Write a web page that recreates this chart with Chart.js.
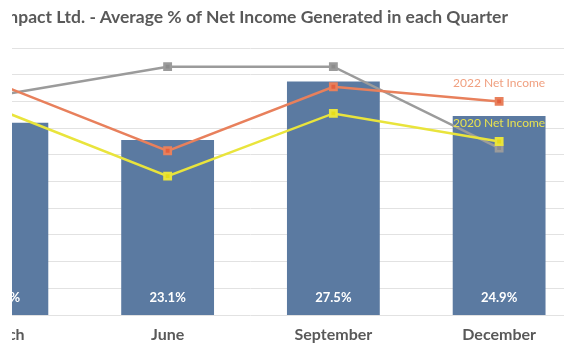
<!DOCTYPE html>
<html>
<head>
<meta charset="utf-8">
<script src="https://cdn.jsdelivr.net/npm/chart.js@4.4.1/dist/chart.umd.min.js"></script>
<style>
  html, body { margin: 0; padding: 0; background: #fff; }
  #wrap { position: absolute; left: 12px; top: 0; width: 552px; height: 344px; overflow: hidden; background: #fff; }
  #title { position: absolute; right: 56px; top: 6px; white-space: nowrap; font: bold 17.5px Lato, sans-serif; color: #595959; }
  #box { position: absolute; left: -100px; top: 0; width: 677px; height: 344px; }
</style>
</head>
<body>
<div id="wrap">
  <div id="box"><canvas id="chart"></canvas></div>
  <div id="title">Impact Ltd. - Average % of Net Income Generated in each Quarter</div>
</div>
<script>
// Quarters and values
const quarters = ["March", "June", "September", "December"];
const avgShare = [24.4, 23.1, 27.5, 24.9];
const income2021 = [26.5, 28.6, 28.6, 22.5];
const income2022 = [27.2, 22.3, 27.1, 26.0];
const income2020 = [25.3, 20.4, 25.1, 23.0];
const yMin = 10, yMax = 30, yStep = 2;

// white % labels near the foot of each bar
const barLabels = {
    id: "barLabels",
    afterDatasetsDraw(chart) {
        const ctx = chart.ctx;
        const meta = chart.getDatasetMeta(0);
        const foot = chart.scales.y.getPixelForValue(yMin);
        ctx.save();
        ctx.font = "bold 13px Lato, sans-serif";
        ctx.fillStyle = "#ffffff";
        ctx.textAlign = "center";
        ctx.textBaseline = "middle";
        meta.data.forEach((bar, i) => {
            ctx.fillText(avgShare[i].toFixed(1) + "%", bar.x, foot - 17);
        });
        ctx.restore();
    }
};

// series name above the last point of a line
const seriesTags = {
    id: "seriesTags",
    afterDatasetsDraw(chart) {
        const ctx = chart.ctx;
        ctx.save();
        ctx.font = "12px Lato, sans-serif";
        ctx.textAlign = "center";
        ctx.textBaseline = "middle";
        chart.data.datasets.forEach((ds, i) => {
            if (!ds.tagColor) return;
            const pts = chart.getDatasetMeta(i).data;
            const last = pts[pts.length - 1];
            ctx.fillStyle = ds.tagColor;
            ctx.fillText(ds.label, last.x, last.y - 18);
        });
        ctx.restore();
    }
};

new Chart(document.getElementById("chart"), {
    type: "bar",
    data: {
        labels: quarters,
        datasets: [
            {
                type: "bar",
                label: "Average % of Net Income",
                data: avgShare,
                backgroundColor: "#5b7aa1",
                barPercentage: 0.56,
                categoryPercentage: 1,
                order: 4
            },
            {
                type: "line",
                label: "2021 Net Income",
                data: income2021,
                borderColor: "#9b9b9b",
                backgroundColor: "#8c8c8c",
                borderWidth: 2.5,
                pointStyle: "rect",
                pointRadius: 4.5,
                tension: 0,
                order: 3
            },
            {
                type: "line",
                label: "2022 Net Income",
                data: income2022,
                borderColor: "#e8805c",
                backgroundColor: "#e4603e",
                borderWidth: 2.5,
                pointStyle: "rect",
                pointRadius: 4.5,
                tension: 0,
                tagColor: "#f0a080",
                order: 2
            },
            {
                type: "line",
                label: "2020 Net Income",
                data: income2020,
                borderColor: "#e9e43c",
                backgroundColor: "#e6dc1a",
                borderWidth: 2.5,
                pointStyle: "rect",
                pointRadius: 4.5,
                tension: 0,
                tagColor: "#e8e250",
                order: 1
            }
        ]
    },
    options: {
        responsive: true,
        maintainAspectRatio: false,
        animation: false,
        layout: { padding: { top: 48, bottom: 1, left: 0, right: 0 } },
        plugins: {
            legend: { display: false },
            tooltip: { enabled: false }
        },
        scales: {
            x: {
                grid: { display: false, drawTicks: false },
                border: { display: false },
                ticks: {
                    color: "#595959",
                    font: { family: "Lato", size: 16, weight: "bold" },
                    padding: 10,
                    maxRotation: 0,
                    autoSkip: false
                },
                afterFit(scale) { scale.height = 28; }
            },
            y: {
                min: yMin,
                max: yMax,
                border: { display: false },
                grid: { color: "#e2e2e2", drawTicks: false },
                ticks: { display: false, stepSize: yStep },
                afterFit(scale) { scale.width = 0; }
            }
        }
    },
    plugins: [barLabels, seriesTags]
});
</script>
</body>
</html>
